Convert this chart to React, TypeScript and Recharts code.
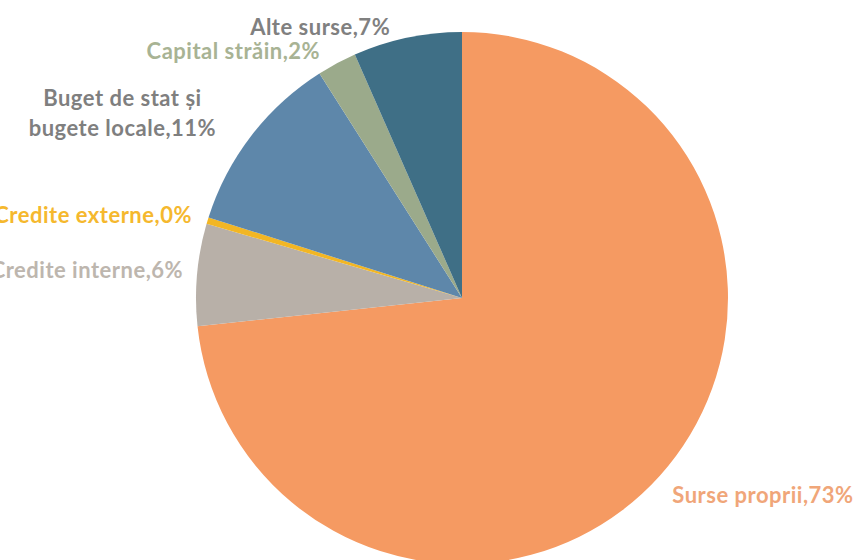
import React from "react";
import { PieChart, Pie, Cell } from "recharts";

const names = [
  "Surse proprii",
  "Credite interne",
  "Credite externe",
  "Buget de stat și bugete locale",
  "Capital străin",
  "Alte surse",
];
const values = [73.3, 6.2, 0.4, 11.1, 2.4, 6.6];
const labelTexts = [
  ["Surse proprii,73%"],
  ["Credite interne,6%"],
  ["Credite externe,0%"],
  ["Buget de stat și", "bugete locale,11%"],
  ["Capital străin,2%"],
  ["Alte surse,7%"],
];

const sliceColors = ["#F59A62", "#B8B0A8", "#F2B624", "#5E87AA", "#9BAA8B", "#3F6F86"];
const labelColors = ["#F0A679", "#BDB6AE", "#F5B82E", "#7F7F7F", "#A8B394", "#808080"];
const labelOffsets = [
  { dx: 5, dy: 12, anchor: "start" },
  { dx: -4, dy: -5, anchor: "end" },
  { dx: -6, dy: -4, anchor: "end" },
  { dx: -121, dy: -33, anchor: "middle" },
  { dx: -12, dy: -4, anchor: "end" },
  { dx: -15, dy: -2, anchor: "end" },
];

const data = names.map((n, i) => ({ name: n, value: values[i] }));

const RAD = Math.PI / 180;

const renderLabel = (props: any) => {
  const { cx, cy, midAngle, outerRadius, index } = props;
  const r = outerRadius + 10;
  const x = cx + r * Math.cos(-midAngle * RAD);
  const y = cy + r * Math.sin(-midAngle * RAD);
  const o = labelOffsets[index];
  const lines = labelTexts[index];
  return (
    <text
      x={x + o.dx}
      y={y + o.dy}
      textAnchor={o.anchor as any}
      dominantBaseline="central"
      fill={labelColors[index]}
      fontFamily="Lato, 'Open Sans', sans-serif"
      fontWeight={700}
      fontSize={22}
      letterSpacing={0.5}
    >
      {lines.map((l, k) => (
        <tspan key={k} x={x + o.dx} dy={k === 0 ? 0 : 30}>
          {l}
        </tspan>
      ))}
    </text>
  );
};

export default function App() {
  return (
    <div style={{ position: "absolute", left: 0, top: 0, width: 857, height: 560, background: "#fff" }}>
      <PieChart width={857} height={560} margin={{ top: 0, right: 0, bottom: 0, left: 0 }} style={{ overflow: "visible" }}>
        <Pie
          data={data}
          dataKey="value"
          nameKey="name"
          cx={462}
          cy={298}
          outerRadius={266}
          startAngle={90}
          endAngle={-270}
          stroke="none"
          label={renderLabel}
          labelLine={false}
          isAnimationActive={false}
        >
          {data.map((d, i) => (
            <Cell key={d.name} fill={sliceColors[i]} />
          ))}
        </Pie>
      </PieChart>
    </div>
  );
}
